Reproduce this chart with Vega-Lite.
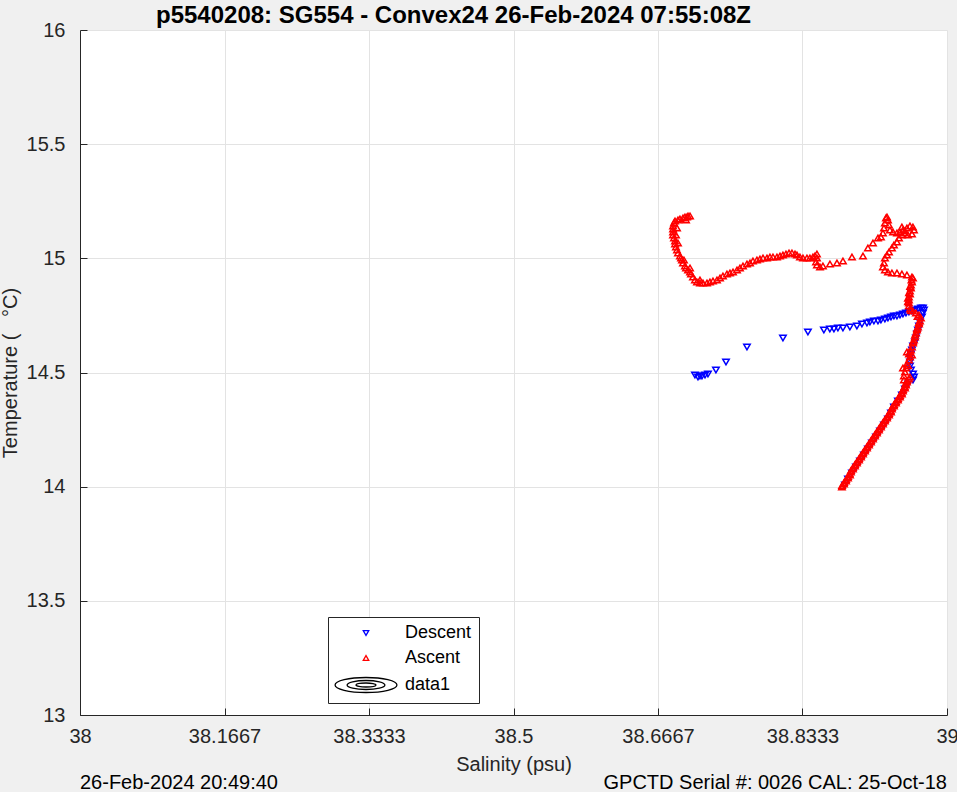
{
  "$schema": "https://vega.github.io/schema/vega-lite/v6.json",
  "width": 867,
  "height": 685,
  "autosize": {"type": "none"},
  "padding": {"left": 80, "top": 30, "right": 10, "bottom": 77},
  "background": "#f0f0f0",
  "view": {"fill": "white", "stroke": null},
  "title": {
    "text": "p5540208: SG554 - Convex24 26-Feb-2024 07:55:08Z",
    "anchor": "middle",
    "dx": -60,
    "offset": -8,
    "font": "Liberation Sans",
    "fontSize": 24,
    "fontWeight": "bold",
    "color": "black"
  },
  "config": {
    "axis": {
      "domainColor": "#262626",
      "tickColor": "#262626",
      "tickSize": -7,
      "labelFont": "Liberation Sans",
      "labelFontSize": 20,
      "labelColor": "#262626",
      "labelFlush": false,
      "titleFont": "Liberation Sans",
      "titleFontSize": 20,
      "titleFontWeight": "normal",
      "titleColor": "#262626",
      "gridColor": "#e3e3e3",
      "gridOpacity": 1
    }
  },
  "datasets": {
    "footers": [
      {"footer": "26-Feb-2024 20:49:40", "side": "left"},
      {"footer": "GPCTD Serial #: 0026 CAL: 25-Oct-18", "side": "right"}
    ],
    "ts": [
      {"cast":"Descent","salinity":38.7093,"temperature":14.4890},
      {"cast":"Descent","salinity":38.7128,"temperature":14.4803},
      {"cast":"Descent","salinity":38.7151,"temperature":14.4847},
      {"cast":"Descent","salinity":38.7174,"temperature":14.4847},
      {"cast":"Descent","salinity":38.7209,"temperature":14.4890},
      {"cast":"Descent","salinity":38.7243,"temperature":14.4934},
      {"cast":"Descent","salinity":38.7335,"temperature":14.5109},
      {"cast":"Descent","salinity":38.7451,"temperature":14.5460},
      {"cast":"Descent","salinity":38.7693,"temperature":14.6117},
      {"cast":"Descent","salinity":38.8108,"temperature":14.6511},
      {"cast":"Descent","salinity":38.8396,"temperature":14.6774},
      {"cast":"Descent","salinity":38.8580,"temperature":14.6861},
      {"cast":"Descent","salinity":38.8649,"temperature":14.6905},
      {"cast":"Descent","salinity":38.8696,"temperature":14.6905},
      {"cast":"Descent","salinity":38.8742,"temperature":14.6949},
      {"cast":"Descent","salinity":38.8800,"temperature":14.6949},
      {"cast":"Descent","salinity":38.8880,"temperature":14.6993},
      {"cast":"Descent","salinity":38.8961,"temperature":14.7036},
      {"cast":"Descent","salinity":38.9019,"temperature":14.7124},
      {"cast":"Descent","salinity":38.9077,"temperature":14.7168},
      {"cast":"Descent","salinity":38.9111,"temperature":14.7212},
      {"cast":"Descent","salinity":38.9157,"temperature":14.7255},
      {"cast":"Descent","salinity":38.9204,"temperature":14.7255},
      {"cast":"Descent","salinity":38.9238,"temperature":14.7299},
      {"cast":"Descent","salinity":38.9284,"temperature":14.7343},
      {"cast":"Descent","salinity":38.9319,"temperature":14.7387},
      {"cast":"Descent","salinity":38.9354,"temperature":14.7430},
      {"cast":"Descent","salinity":38.9388,"temperature":14.7474},
      {"cast":"Descent","salinity":38.9423,"temperature":14.7474},
      {"cast":"Descent","salinity":38.9458,"temperature":14.7518},
      {"cast":"Descent","salinity":38.9492,"temperature":14.7562},
      {"cast":"Descent","salinity":38.9527,"temperature":14.7606},
      {"cast":"Descent","salinity":38.9561,"temperature":14.7650},
      {"cast":"Descent","salinity":38.9596,"temperature":14.7693},
      {"cast":"Descent","salinity":38.9631,"temperature":14.7737},
      {"cast":"Descent","salinity":38.9665,"temperature":14.7781},
      {"cast":"Descent","salinity":38.9700,"temperature":14.7825},
      {"cast":"Descent","salinity":38.9723,"temperature":14.7825},
      {"cast":"Descent","salinity":38.9734,"temperature":14.7737},
      {"cast":"Descent","salinity":38.9723,"temperature":14.7606},
      {"cast":"Descent","salinity":38.9711,"temperature":14.7430},
      {"cast":"Descent","salinity":38.9688,"temperature":14.7212},
      {"cast":"Descent","salinity":38.9677,"temperature":14.7036},
      {"cast":"Descent","salinity":38.9665,"temperature":14.6861},
      {"cast":"Descent","salinity":38.9654,"temperature":14.6686},
      {"cast":"Descent","salinity":38.9642,"temperature":14.6511},
      {"cast":"Descent","salinity":38.9631,"temperature":14.6336},
      {"cast":"Descent","salinity":38.9608,"temperature":14.6161},
      {"cast":"Descent","salinity":38.9596,"temperature":14.5985},
      {"cast":"Descent","salinity":38.9584,"temperature":14.5810},
      {"cast":"Descent","salinity":38.9573,"temperature":14.5635},
      {"cast":"Descent","salinity":38.9573,"temperature":14.5460},
      {"cast":"Descent","salinity":38.9573,"temperature":14.5284},
      {"cast":"Descent","salinity":38.9584,"temperature":14.5109},
      {"cast":"Descent","salinity":38.9608,"temperature":14.4934},
      {"cast":"Descent","salinity":38.9619,"temperature":14.4803},
      {"cast":"Descent","salinity":38.9608,"temperature":14.4672},
      {"cast":"Descent","salinity":38.9550,"temperature":14.4496},
      {"cast":"Descent","salinity":38.9515,"temperature":14.4277},
      {"cast":"Descent","salinity":38.9480,"temperature":14.4015},
      {"cast":"Descent","salinity":38.9434,"temperature":14.3752},
      {"cast":"Descent","salinity":38.9388,"temperature":14.3489},
      {"cast":"Descent","salinity":38.9354,"temperature":14.3226},
      {"cast":"Descent","salinity":38.9319,"temperature":14.2963},
      {"cast":"Descent","salinity":38.9273,"temperature":14.2700},
      {"cast":"Descent","salinity":38.9227,"temperature":14.2438},
      {"cast":"Descent","salinity":38.9181,"temperature":14.2175},
      {"cast":"Descent","salinity":38.9134,"temperature":14.1912},
      {"cast":"Descent","salinity":38.9088,"temperature":14.1650},
      {"cast":"Descent","salinity":38.9042,"temperature":14.1387},
      {"cast":"Descent","salinity":38.8996,"temperature":14.1124},
      {"cast":"Descent","salinity":38.8950,"temperature":14.0861},
      {"cast":"Descent","salinity":38.8904,"temperature":14.0598},
      {"cast":"Descent","salinity":38.8858,"temperature":14.0335},
      {"cast":"Descent","salinity":38.8823,"temperature":14.0072},
      {"cast":"Ascent","salinity":38.8788,"temperature":13.9985},
      {"cast":"Ascent","salinity":38.8790,"temperature":14.0050},
      {"cast":"Ascent","salinity":38.8812,"temperature":14.0117},
      {"cast":"Ascent","salinity":38.8813,"temperature":14.0182},
      {"cast":"Ascent","salinity":38.8835,"temperature":14.0248},
      {"cast":"Ascent","salinity":38.8836,"temperature":14.0314},
      {"cast":"Ascent","salinity":38.8858,"temperature":14.0380},
      {"cast":"Ascent","salinity":38.8859,"temperature":14.0445},
      {"cast":"Ascent","salinity":38.8881,"temperature":14.0511},
      {"cast":"Ascent","salinity":38.8876,"temperature":14.0576},
      {"cast":"Ascent","salinity":38.8892,"temperature":14.0642},
      {"cast":"Ascent","salinity":38.8893,"temperature":14.0708},
      {"cast":"Ascent","salinity":38.8915,"temperature":14.0774},
      {"cast":"Ascent","salinity":38.8916,"temperature":14.0839},
      {"cast":"Ascent","salinity":38.8938,"temperature":14.0905},
      {"cast":"Ascent","salinity":38.8939,"temperature":14.0971},
      {"cast":"Ascent","salinity":38.8961,"temperature":14.1037},
      {"cast":"Ascent","salinity":38.8963,"temperature":14.1102},
      {"cast":"Ascent","salinity":38.8985,"temperature":14.1168},
      {"cast":"Ascent","salinity":38.8986,"temperature":14.1234},
      {"cast":"Ascent","salinity":38.9008,"temperature":14.1299},
      {"cast":"Ascent","salinity":38.9009,"temperature":14.1365},
      {"cast":"Ascent","salinity":38.9031,"temperature":14.1431},
      {"cast":"Ascent","salinity":38.9032,"temperature":14.1496},
      {"cast":"Ascent","salinity":38.9054,"temperature":14.1562},
      {"cast":"Ascent","salinity":38.9055,"temperature":14.1628},
      {"cast":"Ascent","salinity":38.9077,"temperature":14.1694},
      {"cast":"Ascent","salinity":38.9078,"temperature":14.1759},
      {"cast":"Ascent","salinity":38.9100,"temperature":14.1825},
      {"cast":"Ascent","salinity":38.9101,"temperature":14.1891},
      {"cast":"Ascent","salinity":38.9123,"temperature":14.1956},
      {"cast":"Ascent","salinity":38.9124,"temperature":14.2022},
      {"cast":"Ascent","salinity":38.9146,"temperature":14.2088},
      {"cast":"Ascent","salinity":38.9147,"temperature":14.2153},
      {"cast":"Ascent","salinity":38.9169,"temperature":14.2219},
      {"cast":"Ascent","salinity":38.9170,"temperature":14.2285},
      {"cast":"Ascent","salinity":38.9192,"temperature":14.2350},
      {"cast":"Ascent","salinity":38.9193,"temperature":14.2416},
      {"cast":"Ascent","salinity":38.9215,"temperature":14.2482},
      {"cast":"Ascent","salinity":38.9216,"temperature":14.2547},
      {"cast":"Ascent","salinity":38.9238,"temperature":14.2613},
      {"cast":"Ascent","salinity":38.9239,"temperature":14.2679},
      {"cast":"Ascent","salinity":38.9261,"temperature":14.2744},
      {"cast":"Ascent","salinity":38.9262,"temperature":14.2810},
      {"cast":"Ascent","salinity":38.9284,"temperature":14.2876},
      {"cast":"Ascent","salinity":38.9286,"temperature":14.2941},
      {"cast":"Ascent","salinity":38.9308,"temperature":14.3007},
      {"cast":"Ascent","salinity":38.9309,"temperature":14.3073},
      {"cast":"Ascent","salinity":38.9331,"temperature":14.3139},
      {"cast":"Ascent","salinity":38.9332,"temperature":14.3204},
      {"cast":"Ascent","salinity":38.9354,"temperature":14.3270},
      {"cast":"Ascent","salinity":38.9349,"temperature":14.3336},
      {"cast":"Ascent","salinity":38.9365,"temperature":14.3401},
      {"cast":"Ascent","salinity":38.9366,"temperature":14.3467},
      {"cast":"Ascent","salinity":38.9388,"temperature":14.3533},
      {"cast":"Ascent","salinity":38.9389,"temperature":14.3598},
      {"cast":"Ascent","salinity":38.9411,"temperature":14.3664},
      {"cast":"Ascent","salinity":38.9412,"temperature":14.3730},
      {"cast":"Ascent","salinity":38.9434,"temperature":14.3796},
      {"cast":"Ascent","salinity":38.9435,"temperature":14.3861},
      {"cast":"Ascent","salinity":38.9457,"temperature":14.3927},
      {"cast":"Ascent","salinity":38.9458,"temperature":14.3993},
      {"cast":"Ascent","salinity":38.9480,"temperature":14.4058},
      {"cast":"Ascent","salinity":38.9476,"temperature":14.4124},
      {"cast":"Ascent","salinity":38.9492,"temperature":14.4190},
      {"cast":"Ascent","salinity":38.9493,"temperature":14.4255},
      {"cast":"Ascent","salinity":38.9515,"temperature":14.4321},
      {"cast":"Ascent","salinity":38.9511,"temperature":14.4387},
      {"cast":"Ascent","salinity":38.9527,"temperature":14.4452},
      {"cast":"Ascent","salinity":38.9522,"temperature":14.4518},
      {"cast":"Ascent","salinity":38.9538,"temperature":14.4584},
      {"cast":"Ascent","salinity":38.9540,"temperature":14.4650},
      {"cast":"Ascent","salinity":38.9561,"temperature":14.4715},
      {"cast":"Ascent","salinity":38.9573,"temperature":14.4803},
      {"cast":"Ascent","salinity":38.9503,"temperature":14.4672},
      {"cast":"Ascent","salinity":38.9503,"temperature":14.4847},
      {"cast":"Ascent","salinity":38.9515,"temperature":14.5022},
      {"cast":"Ascent","salinity":38.9492,"temperature":14.5197},
      {"cast":"Ascent","salinity":38.9527,"temperature":14.5197},
      {"cast":"Ascent","salinity":38.9550,"temperature":14.5300},
      {"cast":"Ascent","salinity":38.9538,"temperature":14.5372},
      {"cast":"Ascent","salinity":38.9561,"temperature":14.5547},
      {"cast":"Ascent","salinity":38.9573,"temperature":14.5679},
      {"cast":"Ascent","salinity":38.9596,"temperature":14.5766},
      {"cast":"Ascent","salinity":38.9561,"temperature":14.5810},
      {"cast":"Ascent","salinity":38.9538,"temperature":14.5898},
      {"cast":"Ascent","salinity":38.9573,"temperature":14.5900},
      {"cast":"Ascent","salinity":38.9584,"temperature":14.5985},
      {"cast":"Ascent","salinity":38.9596,"temperature":14.6117},
      {"cast":"Ascent","salinity":38.9607,"temperature":14.6292},
      {"cast":"Ascent","salinity":38.9610,"temperature":14.6350},
      {"cast":"Ascent","salinity":38.9619,"temperature":14.6423},
      {"cast":"Ascent","salinity":38.9630,"temperature":14.6555},
      {"cast":"Ascent","salinity":38.9632,"temperature":14.6650},
      {"cast":"Ascent","salinity":38.9642,"temperature":14.6730},
      {"cast":"Ascent","salinity":38.9653,"temperature":14.6861},
      {"cast":"Ascent","salinity":38.9655,"temperature":14.6930},
      {"cast":"Ascent","salinity":38.9665,"temperature":14.6993},
      {"cast":"Ascent","salinity":38.9677,"temperature":14.7124},
      {"cast":"Ascent","salinity":38.9676,"temperature":14.7190},
      {"cast":"Ascent","salinity":38.9688,"temperature":14.7255},
      {"cast":"Ascent","salinity":38.9699,"temperature":14.7387},
      {"cast":"Ascent","salinity":38.9660,"temperature":14.7450},
      {"cast":"Ascent","salinity":38.9677,"temperature":14.7518},
      {"cast":"Ascent","salinity":38.9642,"temperature":14.7606},
      {"cast":"Ascent","salinity":38.9607,"temperature":14.7693},
      {"cast":"Ascent","salinity":38.9585,"temperature":14.7720},
      {"cast":"Ascent","salinity":38.9573,"temperature":14.7781},
      {"cast":"Ascent","salinity":38.9561,"temperature":14.7912},
      {"cast":"Ascent","salinity":38.9561,"temperature":14.8044},
      {"cast":"Ascent","salinity":38.9550,"temperature":14.8100},
      {"cast":"Ascent","salinity":38.9561,"temperature":14.8175},
      {"cast":"Ascent","salinity":38.9550,"temperature":14.8250},
      {"cast":"Ascent","salinity":38.9561,"temperature":14.8306},
      {"cast":"Ascent","salinity":38.9573,"temperature":14.8438},
      {"cast":"Ascent","salinity":38.9562,"temperature":14.8500},
      {"cast":"Ascent","salinity":38.9573,"temperature":14.8569},
      {"cast":"Ascent","salinity":38.9584,"temperature":14.8701},
      {"cast":"Ascent","salinity":38.9575,"temperature":14.8770},
      {"cast":"Ascent","salinity":38.9584,"temperature":14.8832},
      {"cast":"Ascent","salinity":38.9596,"temperature":14.8963},
      {"cast":"Ascent","salinity":38.9590,"temperature":14.9050},
      {"cast":"Ascent","salinity":38.9607,"temperature":14.9139},
      {"cast":"Ascent","salinity":38.9596,"temperature":14.9182},
      {"cast":"Ascent","salinity":38.9538,"temperature":14.9270},
      {"cast":"Ascent","salinity":38.9480,"temperature":14.9314},
      {"cast":"Ascent","salinity":38.9423,"temperature":14.9358},
      {"cast":"Ascent","salinity":38.9365,"temperature":14.9358},
      {"cast":"Ascent","salinity":38.9319,"temperature":14.9401},
      {"cast":"Ascent","salinity":38.9284,"temperature":14.9489},
      {"cast":"Ascent","salinity":38.9261,"temperature":14.9620},
      {"cast":"Ascent","salinity":38.9273,"temperature":14.9796},
      {"cast":"Ascent","salinity":38.9284,"temperature":15.0015},
      {"cast":"Ascent","salinity":38.9308,"temperature":15.0146},
      {"cast":"Ascent","salinity":38.9331,"temperature":15.0277},
      {"cast":"Ascent","salinity":38.9365,"temperature":15.0453},
      {"cast":"Ascent","salinity":38.9388,"temperature":15.0584},
      {"cast":"Ascent","salinity":38.9423,"temperature":15.0715},
      {"cast":"Ascent","salinity":38.9446,"temperature":15.0891},
      {"cast":"Ascent","salinity":38.9480,"temperature":15.1022},
      {"cast":"Ascent","salinity":38.9515,"temperature":15.1197},
      {"cast":"Ascent","salinity":38.9538,"temperature":15.1329},
      {"cast":"Ascent","salinity":38.9573,"temperature":15.1416},
      {"cast":"Ascent","salinity":38.9607,"temperature":15.1372},
      {"cast":"Ascent","salinity":38.9619,"temperature":15.1241},
      {"cast":"Ascent","salinity":38.9596,"temperature":15.1066},
      {"cast":"Ascent","salinity":38.9550,"temperature":15.1022},
      {"cast":"Ascent","salinity":38.9515,"temperature":15.1110},
      {"cast":"Ascent","salinity":38.9492,"temperature":15.1241},
      {"cast":"Ascent","salinity":38.9480,"temperature":15.1372},
      {"cast":"Ascent","salinity":38.9457,"temperature":15.1153},
      {"cast":"Ascent","salinity":38.9423,"temperature":15.1110},
      {"cast":"Ascent","salinity":38.9377,"temperature":15.1153},
      {"cast":"Ascent","salinity":38.9342,"temperature":15.1241},
      {"cast":"Ascent","salinity":38.9331,"temperature":15.1460},
      {"cast":"Ascent","salinity":38.9319,"temperature":15.1679},
      {"cast":"Ascent","salinity":38.9308,"temperature":15.1810},
      {"cast":"Ascent","salinity":38.9296,"temperature":15.1766},
      {"cast":"Ascent","salinity":38.9284,"temperature":15.1548},
      {"cast":"Ascent","salinity":38.9273,"temperature":15.1329},
      {"cast":"Ascent","salinity":38.9261,"temperature":15.1110},
      {"cast":"Ascent","salinity":38.9238,"temperature":15.0934},
      {"cast":"Ascent","salinity":38.9204,"temperature":15.0891},
      {"cast":"Ascent","salinity":38.9146,"temperature":15.0672},
      {"cast":"Ascent","salinity":38.9088,"temperature":15.0453},
      {"cast":"Ascent","salinity":38.9031,"temperature":15.0102},
      {"cast":"Ascent","salinity":38.8904,"temperature":15.0058},
      {"cast":"Ascent","salinity":38.8800,"temperature":14.9883},
      {"cast":"Ascent","salinity":38.8731,"temperature":14.9796},
      {"cast":"Ascent","salinity":38.8650,"temperature":14.9752},
      {"cast":"Ascent","salinity":38.8569,"temperature":14.9664},
      {"cast":"Ascent","salinity":38.8535,"temperature":14.9620},
      {"cast":"Ascent","salinity":38.8500,"temperature":14.9708},
      {"cast":"Ascent","salinity":38.8489,"temperature":14.9839},
      {"cast":"Ascent","salinity":38.8500,"temperature":15.0015},
      {"cast":"Ascent","salinity":38.8500,"temperature":15.0190},
      {"cast":"Ascent","salinity":38.8477,"temperature":15.0102},
      {"cast":"Ascent","salinity":38.8454,"temperature":15.0058},
      {"cast":"Ascent","salinity":38.8419,"temperature":15.0015},
      {"cast":"Ascent","salinity":38.8385,"temperature":15.0015},
      {"cast":"Ascent","salinity":38.8339,"temperature":15.0015},
      {"cast":"Ascent","salinity":38.8304,"temperature":15.0058},
      {"cast":"Ascent","salinity":38.8270,"temperature":15.0146},
      {"cast":"Ascent","salinity":38.8247,"temperature":15.0190},
      {"cast":"Ascent","salinity":38.8212,"temperature":15.0234},
      {"cast":"Ascent","salinity":38.8178,"temperature":15.0234},
      {"cast":"Ascent","salinity":38.8143,"temperature":15.0190},
      {"cast":"Ascent","salinity":38.8108,"temperature":15.0146},
      {"cast":"Ascent","salinity":38.8074,"temperature":15.0102},
      {"cast":"Ascent","salinity":38.8039,"temperature":15.0058},
      {"cast":"Ascent","salinity":38.7993,"temperature":15.0058},
      {"cast":"Ascent","salinity":38.7958,"temperature":15.0058},
      {"cast":"Ascent","salinity":38.7924,"temperature":15.0015},
      {"cast":"Ascent","salinity":38.7878,"temperature":15.0015},
      {"cast":"Ascent","salinity":38.7843,"temperature":14.9971},
      {"cast":"Ascent","salinity":38.7808,"temperature":14.9927},
      {"cast":"Ascent","salinity":38.7762,"temperature":14.9883},
      {"cast":"Ascent","salinity":38.7728,"temperature":14.9796},
      {"cast":"Ascent","salinity":38.7693,"temperature":14.9752},
      {"cast":"Ascent","salinity":38.7647,"temperature":14.9664},
      {"cast":"Ascent","salinity":38.7612,"temperature":14.9577},
      {"cast":"Ascent","salinity":38.7578,"temperature":14.9489},
      {"cast":"Ascent","salinity":38.7532,"temperature":14.9401},
      {"cast":"Ascent","salinity":38.7497,"temperature":14.9358},
      {"cast":"Ascent","salinity":38.7462,"temperature":14.9314},
      {"cast":"Ascent","salinity":38.7416,"temperature":14.9226},
      {"cast":"Ascent","salinity":38.7382,"temperature":14.9139},
      {"cast":"Ascent","salinity":38.7347,"temperature":14.9051},
      {"cast":"Ascent","salinity":38.7301,"temperature":14.9007},
      {"cast":"Ascent","salinity":38.7266,"temperature":14.8963},
      {"cast":"Ascent","salinity":38.7232,"temperature":14.8920},
      {"cast":"Ascent","salinity":38.7186,"temperature":14.8920},
      {"cast":"Ascent","salinity":38.7151,"temperature":14.8920},
      {"cast":"Ascent","salinity":38.7151,"temperature":14.9051},
      {"cast":"Ascent","salinity":38.7116,"temperature":14.8963},
      {"cast":"Ascent","salinity":38.7093,"temperature":14.9051},
      {"cast":"Ascent","salinity":38.7070,"temperature":14.9182},
      {"cast":"Ascent","salinity":38.7047,"temperature":14.9314},
      {"cast":"Ascent","salinity":38.7036,"temperature":14.9401},
      {"cast":"Ascent","salinity":38.7036,"temperature":14.9577},
      {"cast":"Ascent","salinity":38.7013,"temperature":14.9489},
      {"cast":"Ascent","salinity":38.6990,"temperature":14.9577},
      {"cast":"Ascent","salinity":38.6978,"temperature":14.9664},
      {"cast":"Ascent","salinity":38.6955,"temperature":14.9796},
      {"cast":"Ascent","salinity":38.6966,"temperature":14.9927},
      {"cast":"Ascent","salinity":38.6943,"temperature":14.9927},
      {"cast":"Ascent","salinity":38.6932,"temperature":15.0015},
      {"cast":"Ascent","salinity":38.6920,"temperature":15.0102},
      {"cast":"Ascent","salinity":38.6897,"temperature":15.0234},
      {"cast":"Ascent","salinity":38.6886,"temperature":15.0365},
      {"cast":"Ascent","salinity":38.6874,"temperature":15.0496},
      {"cast":"Ascent","salinity":38.6863,"temperature":15.0628},
      {"cast":"Ascent","salinity":38.6897,"temperature":15.0672},
      {"cast":"Ascent","salinity":38.6863,"temperature":15.0759},
      {"cast":"Ascent","salinity":38.6851,"temperature":15.0891},
      {"cast":"Ascent","salinity":38.6840,"temperature":15.1022},
      {"cast":"Ascent","salinity":38.6874,"temperature":15.1022},
      {"cast":"Ascent","salinity":38.6840,"temperature":15.1153},
      {"cast":"Ascent","salinity":38.6840,"temperature":15.1285},
      {"cast":"Ascent","salinity":38.6886,"temperature":15.1329},
      {"cast":"Ascent","salinity":38.6840,"temperature":15.1416},
      {"cast":"Ascent","salinity":38.6851,"temperature":15.1548},
      {"cast":"Ascent","salinity":38.6863,"temperature":15.1635},
      {"cast":"Ascent","salinity":38.6897,"temperature":15.1679},
      {"cast":"Ascent","salinity":38.6920,"temperature":15.1723},
      {"cast":"Ascent","salinity":38.6955,"temperature":15.1766},
      {"cast":"Ascent","salinity":38.6990,"temperature":15.1679},
      {"cast":"Ascent","salinity":38.6978,"temperature":15.1810},
      {"cast":"Ascent","salinity":38.7001,"temperature":15.1810},
      {"cast":"Ascent","salinity":38.7013,"temperature":15.1854},
      {"cast":"Ascent","salinity":38.7036,"temperature":15.1854}
    ]
  },
  "layer": [
    {
      "data": {"name": "ts"},
      "mark": {"type": "point", "filled": false, "size": 42, "strokeWidth": 1.5, "opacity": 1},
      "encoding": {
        "x": {
          "field": "salinity",
          "type": "quantitative",
          "title": "Salinity (psu)",
          "scale": {"domain": [38, 39], "nice": false, "zero": false},
          "axis": {
            "values": [38, 38.16666667, 38.33333333, 38.5, 38.66666667, 38.83333333, 39],
            "format": ".6~r",
            "labelPadding": 18,
            "titlePadding": 8
          }
        },
        "y": {
          "field": "temperature",
          "type": "quantitative",
          "title": "Temperature (\u00a0\u00a0\u00a0°C)",
          "scale": {"domain": [13, 16], "nice": false, "zero": false},
          "axis": {
            "values": [13, 13.5, 14, 14.5, 15, 15.5, 16],
            "format": ".3~r",
            "labelPadding": 22,
            "titlePadding": 6
          }
        },
        "color": {
          "field": "cast",
          "type": "nominal",
          "scale": {"domain": ["Descent", "Ascent", "data1"], "range": ["#0000ff", "#ff0000", "#000000"]},
          "legend": {
            "title": null,
            "orient": "none",
            "legendX": 248,
            "legendY": 587,
            "fillColor": "white",
            "strokeColor": "#262626",
            "padding": 7,
            "symbolSize": 30,
            "symbolStrokeWidth": 1.3,
            "symbolOffset": 22,
            "labelOffset": 30,
            "labelFont": "Liberation Sans",
            "labelFontSize": 18,
            "labelColor": "black",
            "rowPadding": 7
          }
        },
        "shape": {
          "field": "cast",
          "type": "nominal",
          "scale": {
            "domain": ["Descent", "Ascent", "data1"],
            "range": [
              "triangle-down",
              "triangle-up",
              "M -11.3 0 A 11.3 2.74 0 1 0 11.3 0 A 11.3 2.74 0 1 0 -11.3 0 Z M -6.9 0 A 6.9 1.64 0 1 0 6.9 0 A 6.9 1.64 0 1 0 -6.9 0 Z M -3.65 0 A 3.65 0.73 0 1 0 3.65 0 A 3.65 0.73 0 1 0 -3.65 0 Z"
            ]
          }
        }
      }
    },
    {
      "data": {"name": "footers"},
      "transform": [{"filter": "datum.side === 'left'"}],
      "mark": {"type": "text", "align": "left", "baseline": "middle", "font": "Liberation Sans", "fontSize": 20, "color": "black"},
      "encoding": {
        "x": {"datum": 38, "type": "quantitative", "scale": {"domain": [38, 39], "nice": false, "zero": false}},
        "y": {"datum": 12.702, "type": "quantitative", "scale": {"domain": [13, 16], "nice": false, "zero": false}},
        "text": {"field": "footer"}
      }
    },
    {
      "data": {"name": "footers"},
      "transform": [{"filter": "datum.side === 'right'"}],
      "mark": {"type": "text", "align": "right", "baseline": "middle", "font": "Liberation Sans", "fontSize": 20, "color": "black"},
      "encoding": {
        "x": {"datum": 39, "type": "quantitative", "scale": {"domain": [38, 39], "nice": false, "zero": false}},
        "y": {"datum": 12.702, "type": "quantitative", "scale": {"domain": [13, 16], "nice": false, "zero": false}},
        "text": {"field": "footer"}
      }
    }
  ]
}
